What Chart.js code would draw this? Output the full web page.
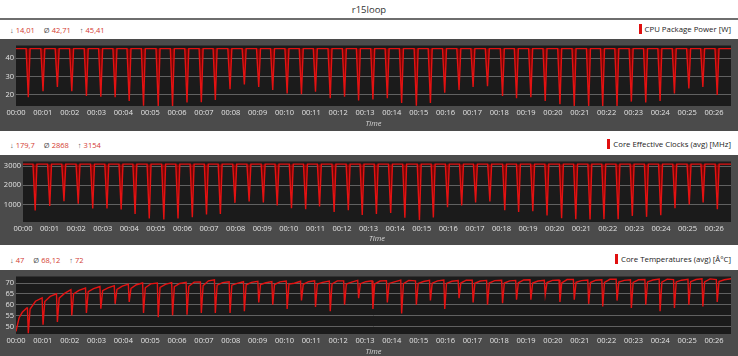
<!DOCTYPE html>
<html><head><meta charset="utf-8">
<script src="https://cdn.jsdelivr.net/npm/chart.js@4.4.1/dist/chart.umd.min.js"></script>
<style>
html,body{margin:0;padding:0;background:#fff;width:738px;height:356px;overflow:hidden;font-family:"Open Sans",sans-serif;}
.abs{position:absolute;}
#title{top:3px;left:0;width:738px;text-align:center;font-size:9.5px;color:#333;}
#rule{top:18px;left:0;width:738px;height:2px;background:#6e6e6e;}
.stats{left:10px;font-size:7.5px;color:#d33a32;white-space:nowrap;}
.stats span.s{color:#555;margin-right:2px;}
.stats span.v{margin-right:9px;}
.legend{right:7px;font-size:7.8px;color:#222;white-space:nowrap;}
.legend i{display:inline-block;width:3px;height:10px;background:#e01010;vertical-align:-2px;margin-right:3px;}
.panel{left:0;width:738px;background:#4b4b4b;}
</style></head><body>
<div id="title" class="abs">r15loop</div>
<div id="rule" class="abs"></div>

<div class="abs stats" style="top:25px"><span class="s">↓</span><span class="v">14,01</span><span class="s">Ø</span><span class="v">42,71</span><span class="s">↑</span><span class="v">45,41</span></div>
<div class="abs legend" style="top:24px"><i></i>CPU Package Power [W]</div>
<div class="abs panel" style="top:39px;height:92px"><canvas id="c1" width="738" height="92"></canvas></div>

<div class="abs stats" style="top:140px"><span class="s">↓</span><span class="v">179,7</span><span class="s">Ø</span><span class="v">2868</span><span class="s">↑</span><span class="v">3154</span></div>
<div class="abs legend" style="top:139px"><i></i>Core Effective Clocks (avg) [MHz]</div>
<div class="abs panel" style="top:155px;height:90px"><canvas id="c2" width="738" height="90"></canvas></div>

<div class="abs stats" style="top:255px"><span class="s">↓</span><span class="v">47</span><span class="s">Ø</span><span class="v">68,12</span><span class="s">↑</span><span class="v">72</span></div>
<div class="abs legend" style="top:254px"><i></i>Core Temperatures (avg) [Å°C]</div>
<div class="abs panel" style="top:270px;height:86px"><canvas id="c3" width="738" height="86"></canvas></div>

<script>
// ---- data (time in seconds) ----
const timeLabels = ['00:00','00:01','00:02','00:03','00:04','00:05','00:06','00:07','00:08','00:09','00:10','00:11','00:12','00:13','00:14','00:15','00:16','00:17','00:18','00:19','00:20','00:21','00:22','00:23','00:24','00:25','00:26'];
const endTime = 1598;

const dipTimes = [27.5,60.4,92.5,124.7,157.4,189.6,221.6,253.0,285.0,317.9,349.9,382.2,414.2,445.5,478.4,510.4,
  542.5,573.8,606.0,638.0,669.4,702.3,734.3,765.7,797.7,829.9,861.9,894.8,926.2,958.2,990.2,1021.6,1053.8,
  1087.4,1118.7,1150.7,1182.8,1215.7,1247.7,1279.9,1311.3,1343.3,1375.3,1407.5,1439.5,1471.6,1503.8,1535.1,1567.2];

const powerHigh = 45.3;
const powerDips = [18.8,22.1,24.4,22.0,19.5,19.1,18.8,16.8,14.1,14.0,14.0,15.9,16.1,17.3,23.2,25.7,
  24.4,22.7,20.9,20.4,21.8,18.2,19.1,17.0,17.5,18.2,15.6,14.1,15.6,21.2,22.7,24.4,24.8,
  19.5,18.2,18.8,16.8,15.0,14.0,14.0,14.0,14.0,16.4,15.9,16.8,20.9,23.6,24.4,20.0];
const powerTicks = [20,30,40];

const clockHigh = 3110;
const clockDips = [684,916,1174,1032,790,790,737,505,263,211,263,332,474,505,1084,1150,
  1100,950,800,750,900,600,700,450,500,550,300,180,320,850,950,1100,1150,
  700,600,650,420,280,220,210,230,220,400,350,430,800,1000,1100,750];
const clockTicks = [1000,2000,3000];

const tempWarmupTimes = [0,3,7,14,24];
const tempWarmupValues = [47.7,50.5,54.0,56.5,58.5];
const tempBefore = [58.5,63.2,65.0,66.9,67.7,68.4,68.8,69.5,70.0,70.0,70.2,70.3,70.5,71.5,70.6,70.6,
  70.8,70.7,70.9,70.8,71.0,70.9,71.0,71.2,71.0,71.1,71.3,71.0,71.2,71.4,71.1,71.3,71.2,
  71.3,71.2,71.5,71.3,71.4,71.6,71.4,71.5,71.7,71.5,71.6,71.8,71.6,71.7,71.9,71.6];
const tempDips = [46.9,50.8,52.0,55.0,56.2,58.2,60.4,61.3,56.2,54.2,55.1,55.4,56.2,56.2,56.2,57.0,
  61,60,58,62,59,57,60,63,58,61,56,60,62,58,63,61,60,
  60.7,62.3,62.3,64.6,61.3,62.3,60.4,59.2,61.9,58.5,60.0,57.0,58.5,60.0,59.2,61.3];
const tempAfter = [58.0,61.5,63.0,65.0,66.0,66.5,67.0,67.5,67.8,68.0,68.3,68.5,68.8,69.0,69.0,69.2,
  69.3,69.3,69.5,69.4,69.5,69.6,69.5,69.7,69.6,69.8,69.7,69.8,69.9,69.8,70.0,69.9,70.0,
  70.0,70.1,70.0,70.2,70.1,70.3,70.2,70.3,70.4,70.3,70.5,70.4,70.5,70.6,70.5,70.7];
const tempMid = [61.6,63.8,65.2,66.6,67.4,67.8,68.6,69.2,69.6,69.4,69.8,70.4,71.0,70.2,69.8,70.3,
  70.1,70.5,69.9,70.6,70.3,71.0,70.4,70.6,70.9,70.5,71.2,70.7,71.0,70.8,71.3,70.9,71.1,
  71.0,71.4,70.9,71.2,71.6,71.1,71.3,71.7,71.2,71.5,71.4,71.8,71.3,71.6,71.9,71.5];
const tempEnd = 72.0;
const tempTicks = [50,55,60,65,70];

// ---- build point tables ----
function spikeSeries(high, dips) {
  const pts = [{x:0, y:high}];
  dipTimes.forEach((d, i) => {
    pts.push({x:d-5, y:high}, {x:d, y:dips[i]}, {x:d+4, y:high});
  });
  pts.push({x:endTime, y:high});
  return pts;
}
const powerData = spikeSeries(powerHigh, powerDips);
const clockData = spikeSeries(clockHigh, clockDips);
const tempData = tempWarmupTimes.map((t, i) => ({x:t, y:tempWarmupValues[i]}));
dipTimes.forEach((d, i) => {
  tempData.push({x:d-2, y:tempBefore[i]}, {x:d, y:tempDips[i]}, {x:d+4, y:tempAfter[i]}, {x:d+16, y:tempMid[i]});
});
tempData.push({x:endTime, y:tempEnd});
const tickSeconds = timeLabels.map(l => parseInt(l.split(':')[1], 10) * 60);

// ---- charts ----
const FONT = '"Open Sans", sans-serif';
const bgPlugin = {
  id: 'bg',
  beforeDraw(chart) {
    const {ctx, chartArea: a} = chart;
    ctx.save();
    ctx.fillStyle = '#4b4b4b';
    ctx.fillRect(0, 0, chart.width, chart.height);
    ctx.fillStyle = '#1b1b1b';
    ctx.fillRect(a.left, a.top, a.right - a.left, a.bottom - a.top);
    ctx.restore();
  }
};

function makeChart(id, data, c) {
  const setY = s => { s.ticks = c.ticks.map(v => ({value: v, label: String(v)})); };
  return new Chart(document.getElementById(id), {
    type: 'line',
    data: { datasets: [{
      data, borderColor: '#e31212', borderWidth: 1.4, pointRadius: 0, tension: 0,
      fill: c.fill, backgroundColor: 'rgba(140,0,0,0.8)'
    }]},
    options: {
      responsive: false, animation: false, events: [],
      layout: { padding: { top: c.padTop, right: 7, left: 0, bottom: 0 } },
      plugins: { legend: {display:false}, tooltip: {enabled:false} },
      scales: {
        x: {
          type: 'linear', min: 0, max: endTime,
          grid: { display: false, drawTicks: false }, border: { display: false },
          afterBuildTicks: s => { s.ticks = tickSeconds.map(v => ({value: v})); },
          ticks: { color: '#e2e2e2', font: {family: FONT, size: 7.5}, padding: 2,
                   maxRotation: 0, autoSkip: false, callback: (v, i) => timeLabels[i] },
          title: { display: true, text: 'Time', color: '#d8d8d8',
                   font: {family: FONT, size: 7.5, style: 'italic'}, padding: {top: 0, bottom: c.titlePad} },
          afterFit: s => { s.height = c.xH; }
        },
        y: {
          type: 'linear', min: c.min, max: c.max,
          afterBuildTicks: setY,
          grid: { color: '#616161', drawTicks: false, lineWidth: 1 }, border: { display: false },
          ticks: { color: '#e2e2e2', font: {family: FONT, size: 7.5}, padding: 2, autoSkip: false,
                   callback: v => String(v) },
          afterFit: s => { s.width = c.yW; }
        }
      }
    },
    plugins: [bgPlugin]
  });
}

makeChart('c1', powerData, {min: 14, max: 47, ticks: powerTicks, padTop: 5, xH: 25, yW: 16, titlePad: 3, fill: {value: powerHigh}});
makeChart('c2', clockData, {min: 80, max: 3250, ticks: clockTicks, padTop: 6, xH: 23, yW: 23, titlePad: 2, fill: {value: clockHigh}});
makeChart('c3', tempData, {min: 46.5, max: 73, ticks: tempTicks, padTop: 6, xH: 22, yW: 16, titlePad: 0, fill: false});
</script>
</body></html>
